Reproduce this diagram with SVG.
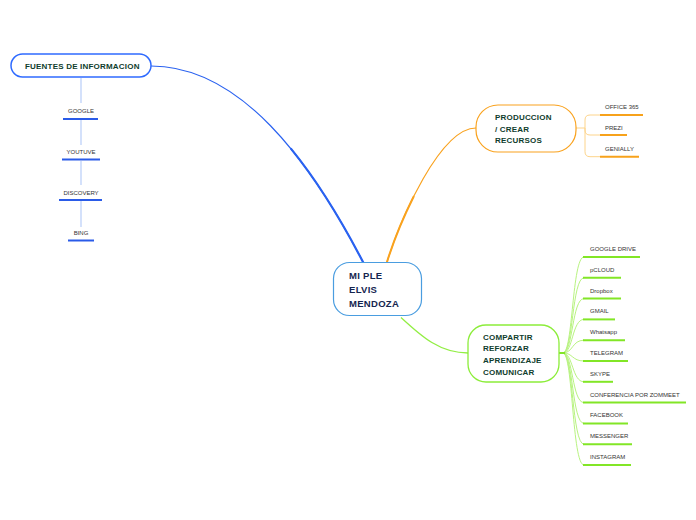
<svg xmlns="http://www.w3.org/2000/svg" width="696" height="520" viewBox="0 0 696 520">
<style>
.node text{font-family:"Liberation Sans",Arial,sans-serif;font-weight:bold;font-size:8px;fill:#0f3d2d;letter-spacing:0.2px}
.leaf{font-family:"Liberation Sans",Arial,sans-serif;font-size:6px;fill:#333}
.ub{stroke:#2a5be8;stroke-width:2;fill:none}
.uo{stroke:#f7a21b;stroke-width:2;fill:none}
.ug{stroke:#82e626;stroke-width:2;fill:none}
.bb{stroke:#a9c3f7;stroke-width:1;fill:none}
.bo{stroke:#fdd48b;stroke-width:1;fill:none}
.bg{stroke:#b8f380;stroke-width:1;fill:none}
.cb{stroke:#2a62f0;fill:none;stroke-linecap:round}
.co{stroke:#f9a21e;fill:none;stroke-linecap:round}
</style>
<rect width="696" height="520" fill="#ffffff"/>
<g id="connectors">
<path class="cb" d="M151,66 C240,66 310,160 363,262" stroke-width="1.2"/>
<path class="cb" d="M291.1,148.9 C317.88,181.68 341.8,221.2 363,262" stroke-width="2.2"/>
<path class="co" d="M387,262 C400,220 440,128 476,128" stroke-width="1.2"/>
<path class="co" d="M387,262 C392.2,245.2 401.72,220.4 413.58,196.69" stroke-width="2"/>
<path d="M401,317.5 C422,337 440,353 468,353" stroke="#92ee44" stroke-width="1.3" fill="none"/>
<path class="bb" d="M81,78 V103 M81,120 V145 M81,161 V185 M81,201 V227"/>
<path class="bo" d="M575,128 H585 M585,128 V120 Q585,115 590,115 H600 M585,128 V130 Q585,135 590,135 H600 M585,128 V151.7 Q585,156.7 590,156.7 H600"/>
<g class="bg">
<path d="M558,353 H563 C573,353 572,257 584,257"/>
<path d="M558,353 H563 C573,353 572,277.8 584,277.8"/>
<path d="M558,353 H563 C573,353 572,298.6 584,298.6"/>
<path d="M558,353 H563 C573,353 572,319.4 584,319.4"/>
<path d="M558,353 H563 C573,353 572,340.2 584,340.2"/>
<path d="M558,353 H563 C573,353 572,361 584,361"/>
<path d="M558,353 H563 C573,353 572,381.8 584,381.8"/>
<path d="M558,353 H563 C573,353 572,402.6 584,402.6"/>
<path d="M558,353 H563 C573,353 572,423.4 584,423.4"/>
<path d="M558,353 H563 C573,353 572,444.2 584,444.2"/>
<path d="M558,353 H563 C573,353 572,465 584,465"/>
</g>
<path d="M557,353 H565" stroke="#82e626" stroke-width="2" fill="none"/>
</g>
<g id="center" class="node">
<rect x="333.5" y="262.5" width="88" height="53" rx="16" fill="#ffffff" stroke="#4a9de0" stroke-width="1.2"/>
<text x="349" y="278.5" style="font-size:9.5px;fill:#15264f;letter-spacing:0.3px">MI PLE</text>
<text x="349" y="292.5" style="font-size:9.5px;fill:#15264f;letter-spacing:0.3px">ELVIS</text>
<text x="349" y="306.5" style="font-size:9.5px;fill:#15264f;letter-spacing:0.3px">MENDOZA</text>
</g>
<g id="fuentes" class="node">
<rect x="11" y="54" width="140" height="23" rx="11.5" fill="#ffffff" stroke="#2f6bff" stroke-width="1.5"/>
<text x="25" y="68.5">FUENTES DE INFORMACION</text>
</g>
<g id="produccion" class="node">
<rect x="476" y="105" width="100" height="47" rx="22" fill="#ffffff" stroke="#f9a21e" stroke-width="1.2"/>
<text x="495" y="119.5">PRODUCCION</text>
<text x="495" y="131.5">/ CREAR</text>
<text x="495" y="143">RECURSOS</text>
</g>
<g id="compartir" class="node">
<rect x="468" y="325" width="91" height="57" rx="18" fill="#ffffff" stroke="#8ced3a" stroke-width="1.3"/>
<text x="483" y="339.5">COMPARTIR</text>
<text x="483" y="351">REFORZAR</text>
<text x="483" y="363">APRENDIZAJE</text>
<text x="483" y="374.5">COMUNICAR</text>
</g>
<g id="google"><text class="leaf" x="81" y="113" text-anchor="middle">GOOGLE</text><path class="ub" d="M63,119 H98"/></g>
<g id="youtuve"><text class="leaf" x="81" y="154" text-anchor="middle">YOUTUVE</text><path class="ub" d="M62,159.5 H100"/></g>
<g id="discovery"><text class="leaf" x="81" y="195" text-anchor="middle">DISCOVERY</text><path class="ub" d="M59,200 H102"/></g>
<g id="bing"><text class="leaf" x="81" y="235" text-anchor="middle">BING</text><path class="ub" d="M68,240.5 H94"/></g>
<g id="office365"><text class="leaf" x="605" y="108.5">OFFICE 365</text><path class="uo" d="M600,115 H643"/></g>
<g id="prezi"><text class="leaf" x="605" y="130">PREZI</text><path class="uo" d="M600,135 H627"/></g>
<g id="genially"><text class="leaf" x="605" y="151">GENIALLY</text><path class="uo" d="M600,156.7 H639"/></g>
<g id="googledrive"><text class="leaf" x="590" y="251">GOOGLE DRIVE</text><path class="ug" d="M583,257 H640"/></g>
<g id="pcloud"><text class="leaf" x="590" y="271.8">pCLOUD</text><path class="ug" d="M583,277.8 H621"/></g>
<g id="dropbox"><text class="leaf" x="590" y="292.6">Dropbox</text><path class="ug" d="M583,298.6 H621"/></g>
<g id="gmail"><text class="leaf" x="590" y="313.4">GMAIL</text><path class="ug" d="M583,319.4 H615"/></g>
<g id="whatsapp"><text class="leaf" x="590" y="334.2">Whatsapp</text><path class="ug" d="M583,340.2 H625"/></g>
<g id="telegram"><text class="leaf" x="590" y="355">TELEGRAM</text><path class="ug" d="M583,361 H628"/></g>
<g id="skype"><text class="leaf" x="590" y="375.8">SKYPE</text><path class="ug" d="M583,381.8 H613"/></g>
<g id="conferencia"><text class="leaf" x="590" y="396.6">CONFERENCIA POR ZOMMEET</text><path class="ug" d="M583,402.6 H686"/></g>
<g id="facebook"><text class="leaf" x="590" y="417.4">FACEBOOK</text><path class="ug" d="M583,423.4 H628"/></g>
<g id="messenger"><text class="leaf" x="590" y="438.2">MESSENGER</text><path class="ug" d="M583,444.2 H632"/></g>
<g id="instagram"><text class="leaf" x="590" y="459">INSTAGRAM</text><path class="ug" d="M583,465 H631"/></g>
</svg>
